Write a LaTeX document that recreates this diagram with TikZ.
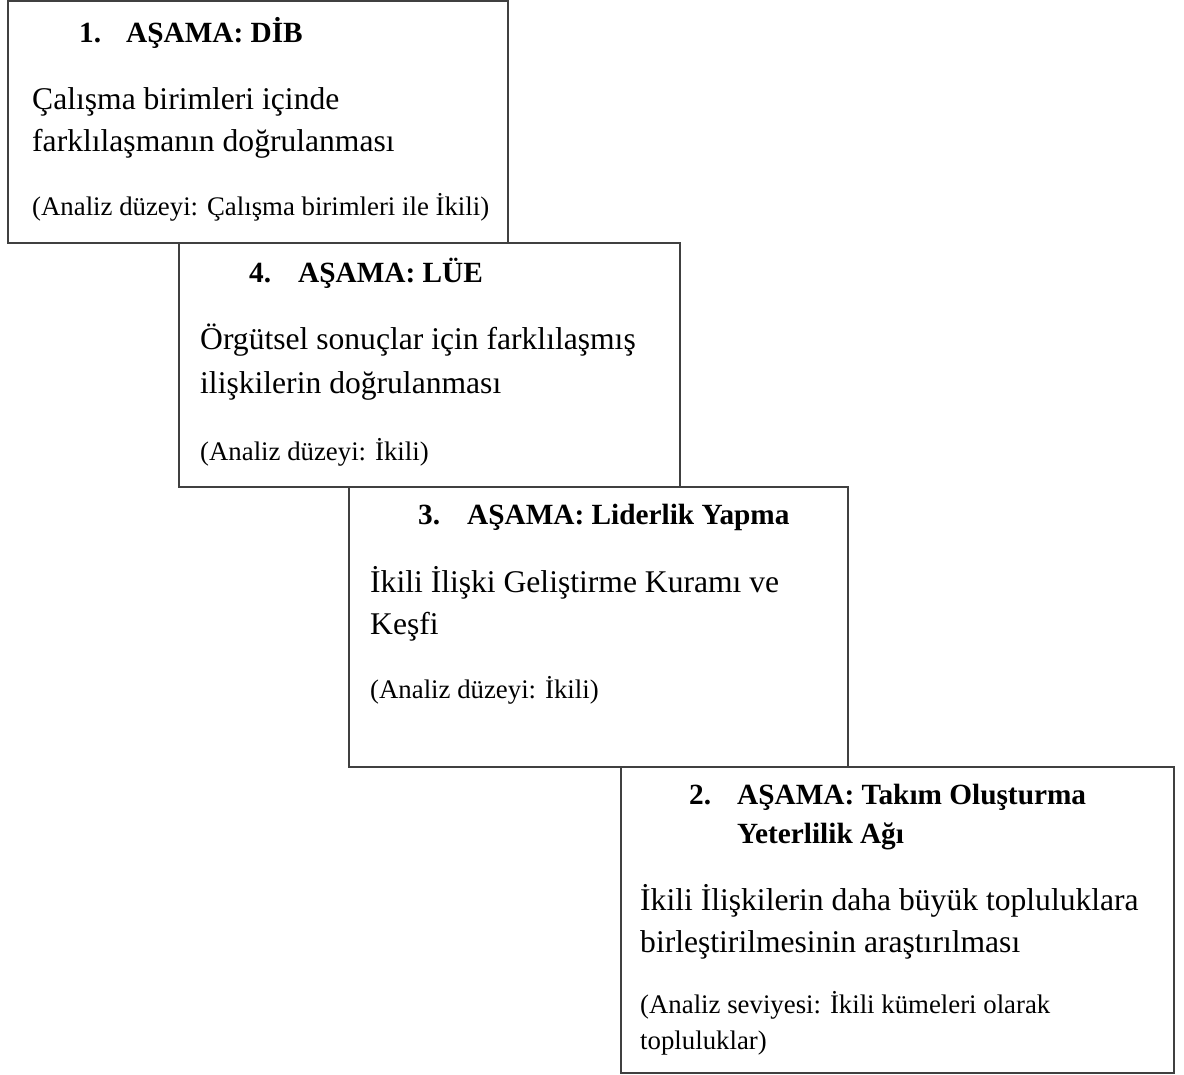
\documentclass[tikz,border=0pt]{standalone}
\usepackage{fontspec}
\setmainfont{Liberation Serif}
\newcommand{\ttlfont}{\fontsize{29.3}{39}\selectfont\bfseries}
\newcommand{\bodyfont}{\fontsize{31.6}{42}\selectfont}
\newcommand{\smlfont}{\fontsize{26.8}{36}\selectfont}
\begin{document}
\begin{tikzpicture}[x=1pt,y=-1pt,
  stagebox/.style={draw=black!75,line width=1.3pt,rectangle,inner sep=0pt,outer sep=0pt,anchor=north west},
  ttl/.style={anchor=base west,inner sep=0pt,font=\ttlfont},
  body/.style={anchor=base west,inner sep=0pt,font=\bodyfont},
  sml/.style={anchor=base west,inner sep=0pt,font=\smlfont}]
\useasboundingbox[fill=white] (0,0) rectangle (1184,1075);
% boxes
\node[stagebox,minimum width=500pt,minimum height=242pt] (b1) at (8,1) {};
\node[stagebox,minimum width=501pt,minimum height=244pt] (b4) at (179,243) {};
\node[stagebox,minimum width=499pt,minimum height=280pt] (b3) at (349,487) {};
\node[stagebox,minimum width=553pt,minimum height=306pt] (b2) at (621,767) {};
% box 1
\node[ttl] (t1n) at (79,43) {1.};
\node[ttl] (t1) at (126,43) {AŞAMA: DİB};
\node[body] (b1l1) at (32,110) {Çalışma birimleri içinde};
\node[body] (b1l2) at (32,152) {farklılaşmanın doğrulanması};
\node[sml] (s1) at (32,216) {(Analiz düzeyi: Çalışma birimleri ile İkili)};
% box 4
\node[ttl] (t4n) at (249,283) {4.};
\node[ttl] (t4) at (298,283) {AŞAMA: LÜE};
\node[body] (b4l1) at (200,350) {Örgütsel sonuçlar için farklılaşmış};
\node[body] (b4l2) at (200,393) {ilişkilerin doğrulanması};
\node[sml] (s4) at (200,460) {(Analiz düzeyi: İkili)};
% box 3
\node[ttl] (t3n) at (418,524) {3.};
\node[ttl] (t3) at (467,524) {AŞAMA: Liderlik Yapma};
\node[body] (b3l1) at (370,592) {İkili İlişki Geliştirme Kuramı ve};
\node[body] (b3l2) at (370,634) {Keşfi};
\node[sml] (s3) at (370,698) {(Analiz düzeyi: İkili)};
% box 2
\node[ttl] (t2n) at (689,804) {2.};
\node[ttl] (t2a) at (737,804) {AŞAMA: Takım Oluşturma};
\node[ttl] (t2b) at (737,843) {Yeterlilik Ağı};
\node[body] (b2l1) at (640,910) {İkili İlişkilerin daha büyük topluluklara};
\node[body] (b2l2) at (640,952) {birleştirilmesinin araştırılması};
\node[sml] (s2a) at (640,1013) {(Analiz seviyesi: İkili kümeleri olarak};
\node[sml] (s2b) at (640,1049) {topluluklar)};
\end{tikzpicture}
\end{document}
